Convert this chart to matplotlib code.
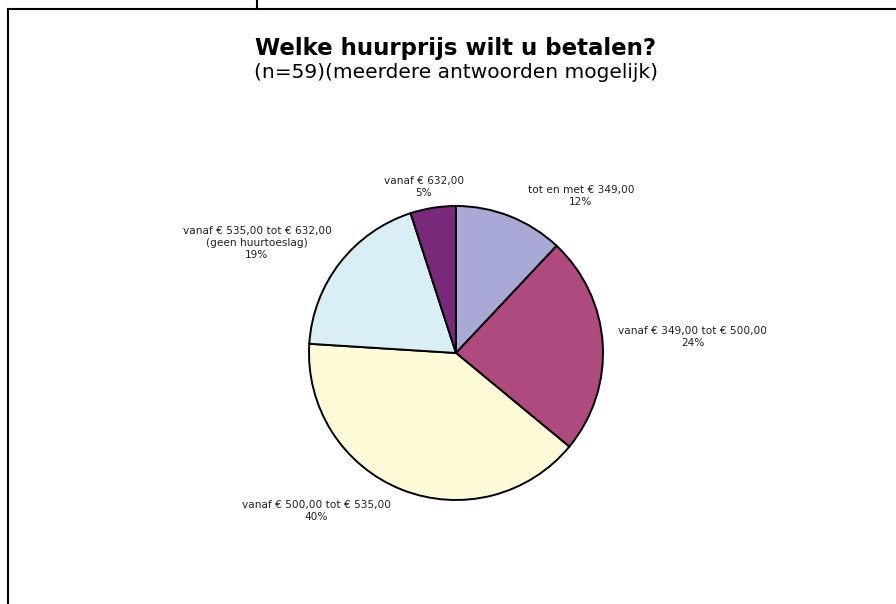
import matplotlib
matplotlib.use("Agg")
import matplotlib.pyplot as plt
from matplotlib.lines import Line2D

# ── data ────────────────────────────────────────────────────────────────
categories = [
    "tot en met € 349,00",
    "vanaf € 349,00 tot € 500,00",
    "vanaf € 500,00 tot € 535,00",
    "vanaf € 535,00 tot € 632,00\n(geen huurtoeslag)",
    "vanaf € 632,00",
]
percentages = [12, 24, 40, 19, 5]

title = "Welke huurprijs wilt u betalen?"
subtitle = "(n=59)(meerdere antwoorden mogelijk)"

# ── style ───────────────────────────────────────────────────────────────
colors = ["#A9A9D5", "#AE4A7E", "#FFFBD8", "#DAEEF5", "#7A287A"]
W, H = 896, 604
center = (456, H - 353)
radius = 147
# label centres in pixel coordinates (from top-left), Excel-style placement
label_xy = [(581, 196), (693, 337), (316, 511), (257, 243), (424, 187)]

plt.rcParams["font.family"] = ["DejaVu Sans"]

fig = plt.figure(figsize=(W / 100, H / 100), dpi=100)
ax = fig.add_axes([0, 0, 1, 1])

wedges, _ = ax.pie(
    percentages,
    colors=colors,
    startangle=90,
    counterclock=False,
    center=center,
    radius=radius,
    frame=True,
    wedgeprops=dict(edgecolor="black", linewidth=1.4),
)
ax.set_xlim(0, W)
ax.set_ylim(0, H)
ax.set_aspect("equal")
ax.axis("off")

for cat, pct, (px, py) in zip(categories, percentages, label_xy):
    ax.text(px, H - py, f"{cat}\n{pct}%", ha="center", va="center",
            fontsize=7.6, color="#222222", linespacing=1.3)

fig.text(456 / W, 1 - 48 / H, title, ha="center", va="center",
         fontsize=16.5, fontweight="bold")
fig.text(456 / W, 1 - 73 / H, subtitle, ha="center", va="center",
         fontsize=14.5)

# frame lines of the original sheet
lw = 1.5
fig.add_artist(Line2D([8 / W, 8 / W], [0, 1 - 9 / H], color="black", lw=lw))
fig.add_artist(Line2D([8 / W, 1], [1 - 9 / H, 1 - 9 / H], color="black", lw=lw))
fig.add_artist(Line2D([257 / W, 257 / W], [1 - 9 / H, 1], color="black", lw=lw))

fig.savefig("out.png", dpi=100)
